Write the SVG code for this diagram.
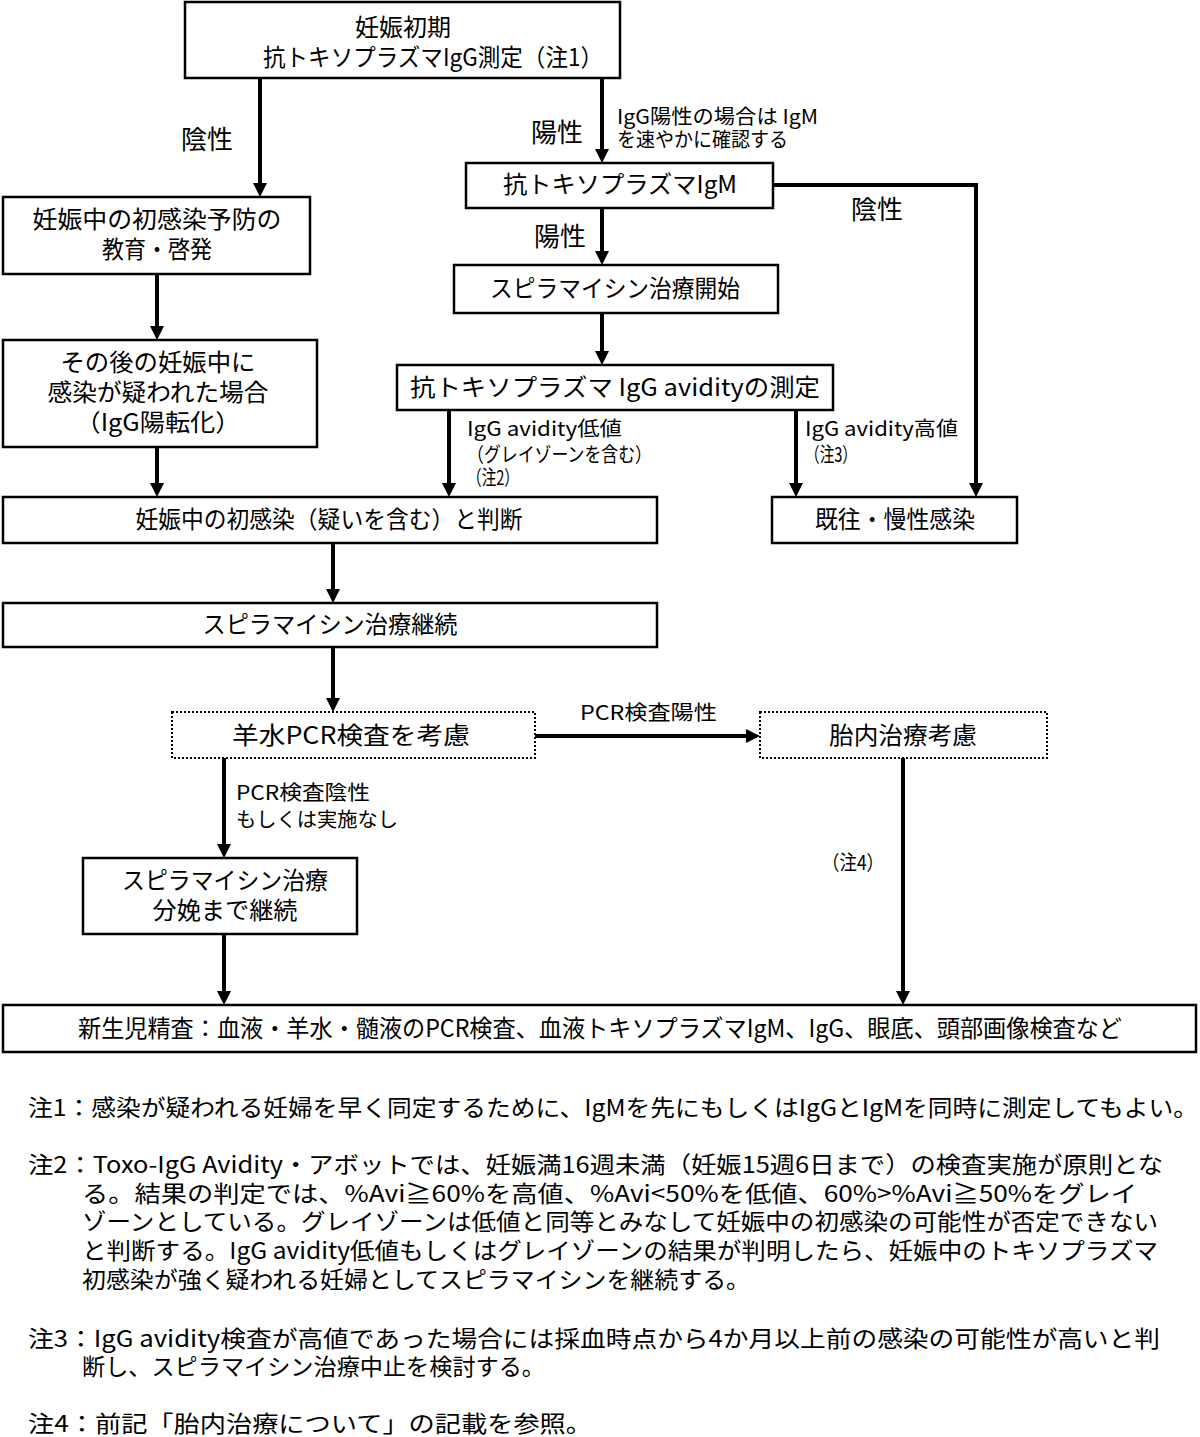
<svg xmlns="http://www.w3.org/2000/svg" width="1200" height="1437" viewBox="0 0 1200 1437">
<defs>
<style>
text{font-family:"Noto Sans CJK JP","Noto Sans",sans-serif;fill:#000;}
.bt{font-size:24px;text-anchor:middle;}
.lb{font-size:26px;text-anchor:middle;}
.sm{font-size:20px;}
.nt{font-size:23px;}
.box{fill:#fff;stroke:#000;stroke-width:2.5;}
.dot{fill:#fff;stroke:#000;stroke-width:2;stroke-dasharray:2 2;}
.ar{fill:none;stroke:#000;stroke-width:4;marker-end:url(#ah);}
</style>
<marker id="ah" markerUnits="userSpaceOnUse" markerWidth="16" markerHeight="16" refX="2" refY="7" orient="auto">
<path d="M0,0 L14,7 L0,14 z" fill="#000"/>
</marker>
</defs>
<rect width="1200" height="1437" fill="#fff"/>

<g id="connectors">
<line class="ar" x1="260" y1="78" x2="260" y2="185"/>
<line class="ar" x1="602" y1="78" x2="602" y2="151"/>
<path class="ar" d="M773,185 H976 V485"/>
<line class="ar" x1="602" y1="208" x2="602" y2="253"/>
<line class="ar" x1="602" y1="313" x2="602" y2="353"/>
<line class="ar" x1="449" y1="410" x2="449" y2="485"/>
<line class="ar" x1="796" y1="410" x2="796" y2="485"/>
<line class="ar" x1="157" y1="274" x2="157" y2="328"/>
<line class="ar" x1="157" y1="447" x2="157" y2="485"/>
<line class="ar" x1="333" y1="543" x2="333" y2="591"/>
<line class="ar" x1="333" y1="647" x2="333" y2="700"/>
<line class="ar" x1="535" y1="736" x2="748" y2="736"/>
<line class="ar" x1="224" y1="758" x2="224" y2="846"/>
<line class="ar" x1="224" y1="934" x2="224" y2="993"/>
<line class="ar" x1="903" y1="758" x2="903" y2="993"/>
<text class="lb" x="207" y="149">陰性</text>
<text class="lb" x="557" y="142">陽性</text>
<text class="lb" x="560" y="246">陽性</text>
<text class="lb" x="877" y="219">陰性</text>
<text class="sm" x="617" y="124" textLength="201" lengthAdjust="spacingAndGlyphs">IgG陽性の場合は IgM</text>
<text class="sm" x="617" y="147" textLength="171" lengthAdjust="spacingAndGlyphs">を速やかに確認する</text>
<text class="sm" x="467" y="436" textLength="155" lengthAdjust="spacingAndGlyphs">IgG avidity低値</text>
<text class="sm" x="467" y="462" textLength="185" lengthAdjust="spacingAndGlyphs">（グレイゾーンを含む）</text>
<text class="sm" x="467" y="485" textLength="52" lengthAdjust="spacingAndGlyphs">（注2）</text>
<text class="sm" x="805" y="436" textLength="153" lengthAdjust="spacingAndGlyphs">IgG avidity高値</text>
<text class="sm" x="805" y="462" textLength="52" lengthAdjust="spacingAndGlyphs">（注3）</text>
<text class="sm" x="580" y="720" textLength="137" lengthAdjust="spacingAndGlyphs">PCR検査陽性</text>
<text class="sm" x="236" y="800" textLength="134" lengthAdjust="spacingAndGlyphs">PCR検査陰性</text>
<text class="sm" x="236" y="827" textLength="162" lengthAdjust="spacingAndGlyphs">もしくは実施なし</text>
<text class="sm" x="822" y="870" textLength="62" lengthAdjust="spacingAndGlyphs">（注4）</text>
</g>

<g id="n-start">
<rect class="box" x="185" y="2" width="435" height="76"/>
<text class="bt" x="403" y="36">妊娠初期</text>
<text class="bt" x="433" y="66" textLength="340" lengthAdjust="spacingAndGlyphs">抗トキソプラズマIgG測定（注1）</text>
</g>
<g id="n-igm">
<rect class="box" x="466" y="163" width="307" height="45"/>
<text class="bt" x="620" y="193" textLength="234" lengthAdjust="spacingAndGlyphs">抗トキソプラズマIgM</text>
</g>
<g id="n-spira-start">
<rect class="box" x="454" y="265" width="324" height="48"/>
<text class="bt" x="615" y="297" textLength="250" lengthAdjust="spacingAndGlyphs">スピラマイシン治療開始</text>
</g>
<g id="n-avidity">
<rect class="box" x="397" y="365" width="436" height="45"/>
<text class="bt" x="615" y="396" textLength="410" lengthAdjust="spacingAndGlyphs">抗トキソプラズマ IgG avidityの測定</text>
</g>
<g id="n-past">
<rect class="box" x="772" y="497" width="245" height="46"/>
<text class="bt" x="895" y="528" textLength="160" lengthAdjust="spacingAndGlyphs">既往・慢性感染</text>
</g>
<g id="n-edu">
<rect class="box" x="3" y="197" width="307" height="77"/>
<text class="bt" x="157" y="228" textLength="249" lengthAdjust="spacingAndGlyphs">妊娠中の初感染予防の</text>
<text class="bt" x="157" y="258" textLength="110" lengthAdjust="spacingAndGlyphs">教育・啓発</text>
</g>
<g id="n-later">
<rect class="box" x="3" y="340" width="314" height="107"/>
<text class="bt" x="158" y="371" textLength="195" lengthAdjust="spacingAndGlyphs">その後の妊娠中に</text>
<text class="bt" x="158" y="401" textLength="221" lengthAdjust="spacingAndGlyphs">感染が疑われた場合</text>
<text class="bt" x="158" y="431" textLength="165" lengthAdjust="spacingAndGlyphs">（IgG陽転化）</text>
</g>
<g id="n-primary">
<rect class="box" x="3" y="497" width="654" height="46"/>
<text class="bt" x="329" y="528" textLength="387" lengthAdjust="spacingAndGlyphs">妊娠中の初感染（疑いを含む）と判断</text>
</g>
<g id="n-continue">
<rect class="box" x="3" y="603" width="654" height="44"/>
<text class="bt" x="330" y="633" textLength="255" lengthAdjust="spacingAndGlyphs">スピラマイシン治療継続</text>
</g>
<g id="n-pcr">
<rect class="dot" x="172" y="712" width="363" height="46"/>
<text class="bt" x="351" y="744" textLength="238" lengthAdjust="spacingAndGlyphs">羊水PCR検査を考慮</text>
</g>
<g id="n-fetal">
<rect class="dot" x="760" y="712" width="287" height="46"/>
<text class="bt" x="903" y="744" textLength="148" lengthAdjust="spacingAndGlyphs">胎内治療考慮</text>
</g>
<g id="n-delivery">
<rect class="box" x="83" y="858" width="274" height="76"/>
<text class="bt" x="225" y="889" textLength="206" lengthAdjust="spacingAndGlyphs">スピラマイシン治療</text>
<text class="bt" x="225" y="919" textLength="145" lengthAdjust="spacingAndGlyphs">分娩まで継続</text>
</g>
<g id="n-neonate">
<rect class="box" x="3" y="1005" width="1193" height="47"/>
<text class="bt" x="600" y="1037" textLength="1044" lengthAdjust="spacingAndGlyphs">新生児精査：血液・羊水・髄液のPCR検査、血液トキソプラズマIgM、IgG、眼底、頭部画像検査など</text>
</g>

<g id="notes">
<text class="nt" x="28" y="1116" textLength="1170" lengthAdjust="spacingAndGlyphs">注1：感染が疑われる妊婦を早く同定するために、IgMを先にもしくはIgGとIgMを同時に測定してもよい。</text>
<text class="nt" x="28" y="1173" textLength="1135" lengthAdjust="spacingAndGlyphs">注2：Toxo-IgG Avidity・アボットでは、妊娠満16週未満（妊娠15週6日まで）の検査実施が原則とな</text>
<text class="nt" x="82" y="1202" textLength="1055" lengthAdjust="spacingAndGlyphs">る。結果の判定では、%Avi≧60%を高値、%Avi&lt;50%を低値、60%&gt;%Avi≧50%をグレイ</text>
<text class="nt" x="82" y="1230" textLength="1076" lengthAdjust="spacingAndGlyphs">ゾーンとしている。グレイゾーンは低値と同等とみなして妊娠中の初感染の可能性が否定できない</text>
<text class="nt" x="82" y="1259" textLength="1076" lengthAdjust="spacingAndGlyphs">と判断する。IgG avidity低値もしくはグレイゾーンの結果が判明したら、妊娠中のトキソプラズマ</text>
<text class="nt" x="82" y="1288" textLength="668" lengthAdjust="spacingAndGlyphs">初感染が強く疑われる妊婦としてスピラマイシンを継続する。</text>
<text class="nt" x="28" y="1347" textLength="1132" lengthAdjust="spacingAndGlyphs">注3：IgG avidity検査が高値であった場合には採血時点から4か月以上前の感染の可能性が高いと判</text>
<text class="nt" x="82" y="1375" textLength="463" lengthAdjust="spacingAndGlyphs">断し、スピラマイシン治療中止を検討する。</text>
<text class="nt" x="28" y="1432" textLength="564" lengthAdjust="spacingAndGlyphs">注4：前記「胎内治療について」の記載を参照。</text>
</g>
</svg>
